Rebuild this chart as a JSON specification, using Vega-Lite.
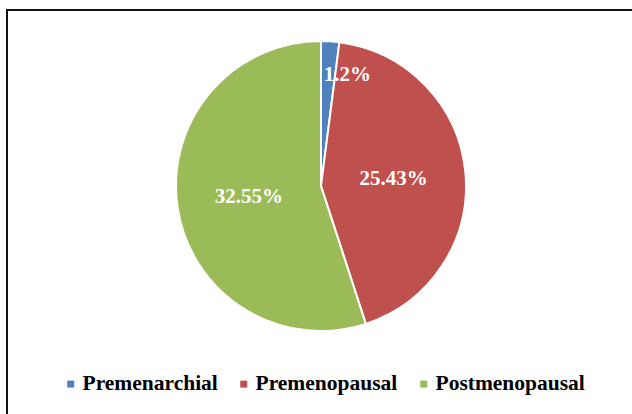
{
  "$schema": "https://vega.github.io/schema/vega-lite/v6.json",
  "width": 640,
  "height": 420,
  "autosize": {"type": "none"},
  "padding": {"top": 10, "left": 7, "right": 0, "bottom": 0},
  "background": "white",
  "view": {"stroke": "#111", "strokeWidth": 2, "fill": "white"},
  "data": {
    "values": [
      {"group": "Premenarchial", "value": 1.2, "label": "1.2%", "ord": 1},
      {"group": "Premenopausal", "value": 25.43, "label": "25.43%", "ord": 2},
      {"group": "Postmenopausal", "value": 32.55, "label": "32.55%", "ord": 3}
    ]
  },
  "encoding": {
    "theta": {"field": "value", "type": "quantitative", "stack": true},
    "order": {"field": "ord", "type": "quantitative"}
  },
  "layer": [
    {
      "mark": {"type": "arc", "outerRadius": 145, "stroke": "white", "strokeWidth": 2, "xOffset": -6, "yOffset": -34},
      "encoding": {
        "color": {
          "field": "group",
          "type": "nominal",
          "scale": {"domain": ["Premenarchial", "Premenopausal", "Postmenopausal"], "range": ["#4F81BD", "#C0504D", "#9BBB59"]},
          "legend": {
            "title": null,
            "orient": "none",
            "direction": "horizontal",
            "legendX": 53,
            "legendY": 363,
            "padding": 0,
            "symbolType": "square",
            "symbolSize": 49,
            "symbolStrokeWidth": 0,
            "labelFont": "Liberation Serif",
            "labelFontWeight": "bold",
            "labelFontSize": 21.5,
            "labelColor": "black",
            "labelOffset": 1,
            "columnPadding": 15,
            "labelLimit": 300
          }
        }
      }
    },
    {
      "mark": {"type": "text", "radius": 73, "font": "Liberation Serif", "fontWeight": "bold", "fontSize": 21, "fill": "white", "dx": -6, "dy": -34},
      "encoding": {
        "text": {"field": "label"},
        "opacity": {"condition": {"test": "datum.ord == 1", "value": 0}, "value": 1}
      }
    },
    {
      "mark": {"type": "text", "radius": 114, "font": "Liberation Serif", "fontWeight": "bold", "fontSize": 21, "fill": "white", "dx": 13, "dy": -31},
      "encoding": {
        "text": {"field": "label"},
        "opacity": {"condition": {"test": "datum.ord == 1", "value": 1}, "value": 0}
      }
    }
  ]
}
